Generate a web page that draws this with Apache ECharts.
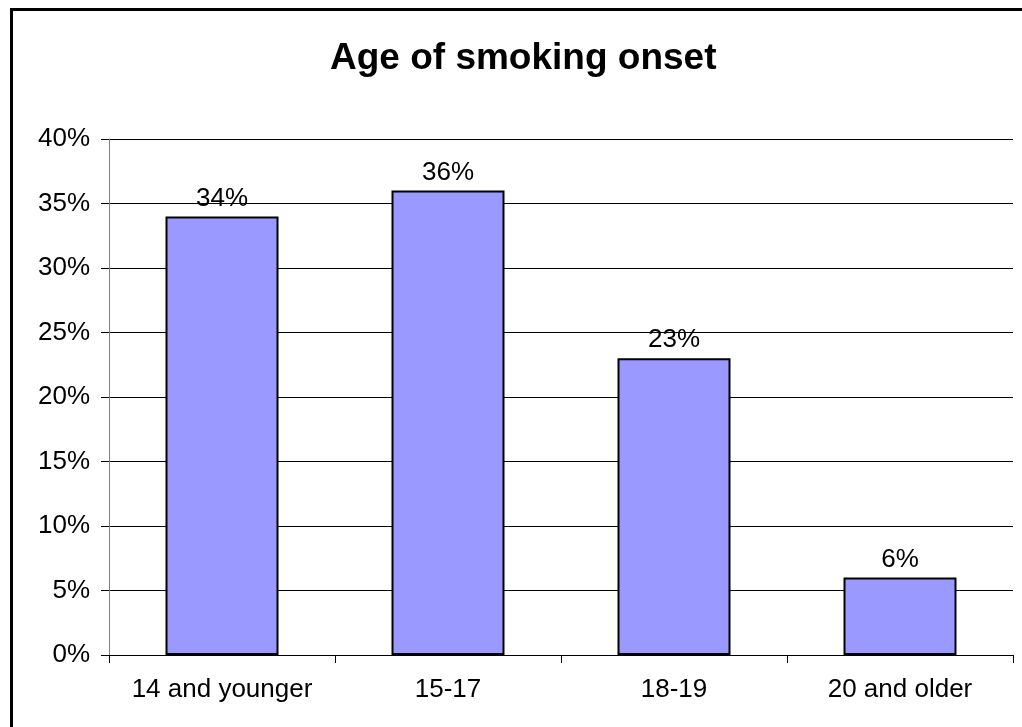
<!DOCTYPE html>
<html>
<head>
<meta charset="utf-8">
<script src="https://cdn.jsdelivr.net/npm/echarts@6/dist/echarts.min.js"></script>
<style>
html,body{margin:0;padding:0;background:#fff;}
#frame{position:absolute;left:10px;top:8px;width:1030px;height:740px;border-left:3px solid #000;border-top:3px solid #000;box-sizing:border-box;}
#chart{position:absolute;left:0;top:0;width:1022px;height:727px;}
</style>
</head>
<body>
<div id="frame"></div>
<div id="chart"></div>
<script>
const categories = ["14 and younger", "15-17", "18-19", "20 and older"];
const values = [34, 36, 23, 6];
const chartTitle = "Age of smoking onset";

const chart = echarts.init(document.getElementById('chart'), null, {renderer: 'canvas'});
chart.setOption({
  backgroundColor: 'transparent',
  animation: false,
  title: {
    text: chartTitle,
    left: 325,
    top: 35,
    textStyle: {fontFamily: 'Liberation Sans, Arial', fontWeight: 'bold', fontSize: 37, color: '#000'}
  },
  grid: {left: 109, right: 9, top: 139, bottom: 72, containLabel: false},
  xAxis: {
    type: 'category',
    data: categories,
    boundaryGap: true,
    axisLine: {show: true, lineStyle: {color: '#000', width: 1}},
    axisTick: {show: true, length: 8, interval: 0, alignWithLabel: false, lineStyle: {color: '#000'}},
    axisLabel: {margin: 22, interval: 0, fontFamily: 'Liberation Sans, Arial', fontSize: 26, color: '#000'}
  },
  yAxis: {
    type: 'value',
    min: 0, max: 40, interval: 5,
    axisLine: {show: true, lineStyle: {color: '#808080', width: 1}},
    axisTick: {show: true, length: 8, lineStyle: {color: '#000'}},
    axisLabel: {margin: 19, fontFamily: 'Liberation Sans, Arial', fontSize: 26, color: '#000', formatter: v => v + '%'},
    splitLine: {show: true, lineStyle: {color: '#000', width: 1}}
  },
  series: [{
    type: 'bar',
    data: values,
    barWidth: '50%',
    itemStyle: {color: '#9999FF', borderColor: '#000', borderWidth: 2},
    label: {show: true, position: 'top', distance: 5, formatter: p => p.value + '%',
      fontFamily: 'Liberation Sans, Arial', fontSize: 26, color: '#000'}
  }]
});
</script>
</body>
</html>
